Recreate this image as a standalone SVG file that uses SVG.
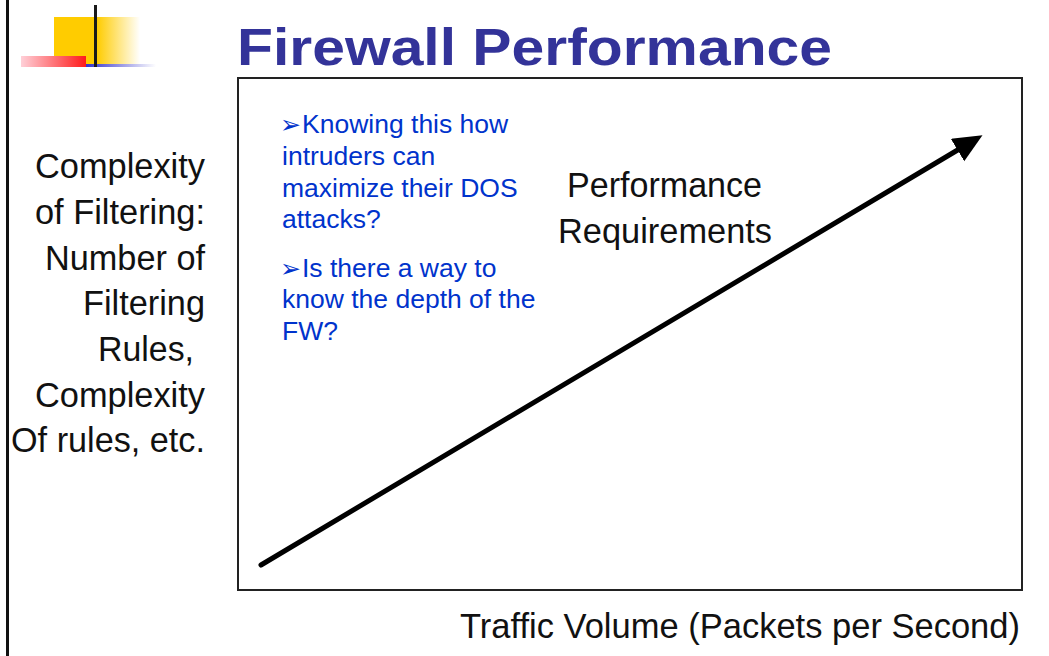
<svg xmlns="http://www.w3.org/2000/svg" width="1049" height="656" viewBox="0 0 1049 656">
  <style>
    .lbl { font-family: "Liberation Sans", Arial, sans-serif; font-size: 35px; fill: #111111; }
    .note { font-family: "Liberation Sans", Arial, sans-serif; font-size: 26.5px; fill: #0033cc; }
    .bul { font-family: "DejaVu Sans", sans-serif; font-size: 25px; fill: #0033cc; }
    .title { font-family: "Liberation Sans", Arial, sans-serif; font-size: 52px; font-weight: bold; fill: #333399; }
  </style>
  <defs>
    <linearGradient id="gYellow" x1="0" y1="0" x2="1" y2="0">
      <stop offset="0" stop-color="#ffcc00"/>
      <stop offset="0.5" stop-color="#ffcc00"/>
      <stop offset="1" stop-color="#ffffff"/>
    </linearGradient>
    <linearGradient id="gRed" x1="0" y1="0" x2="1" y2="0">
      <stop offset="0" stop-color="#ffd0d8"/>
      <stop offset="1" stop-color="#ff1a1a"/>
    </linearGradient>
    <linearGradient id="gBlue" x1="0" y1="0" x2="1" y2="0">
      <stop offset="0" stop-color="#3333cc"/>
      <stop offset="1" stop-color="#ffffff"/>
    </linearGradient>
    <marker id="ah" markerUnits="userSpaceOnUse" markerWidth="30" markerHeight="28" refX="4" refY="13" orient="auto">
      <polygon points="0,0 29,13 0,26" fill="#000000"/>
    </marker>
  </defs>
  <rect x="0" y="0" width="1049" height="656" fill="#ffffff"/>
  <rect x="6" y="0" width="3" height="656" fill="#111111"/>

  <g id="logo">
    <rect x="54" y="17" width="86" height="50" fill="url(#gYellow)"/>
    <rect x="86" y="64" width="70" height="3" fill="url(#gBlue)"/>
    <rect x="21" y="56" width="65" height="11" fill="url(#gRed)"/>
    <rect x="94" y="5" width="3" height="62" fill="#1a1a1a"/>
  </g>

  <g id="title">
    <text class="title" x="237" y="65" textLength="595" lengthAdjust="spacingAndGlyphs">Firewall Performance</text>
  </g>

  <g id="chart-frame">
    <rect x="238" y="78" width="784" height="512" fill="none" stroke="#222222" stroke-width="2"/>
  </g>

  <g id="y-axis-label" text-anchor="end">
    <text class="lbl" x="205" y="178" textLength="170" lengthAdjust="spacingAndGlyphs">Complexity</text>
    <text class="lbl" x="205" y="224" textLength="170" lengthAdjust="spacingAndGlyphs">of Filtering:</text>
    <text class="lbl" x="205" y="270" textLength="160" lengthAdjust="spacingAndGlyphs">Number of</text>
    <text class="lbl" x="205" y="315" textLength="122" lengthAdjust="spacingAndGlyphs">Filtering</text>
    <text class="lbl" x="194" y="361" textLength="96" lengthAdjust="spacingAndGlyphs">Rules,</text>
    <text class="lbl" x="205" y="407" textLength="170" lengthAdjust="spacingAndGlyphs">Complexity</text>
    <text class="lbl" x="205" y="452" textLength="194" lengthAdjust="spacingAndGlyphs">Of rules, etc.</text>
  </g>

  <g id="notes">
    <text class="bul" x="280" y="133">➢</text>
    <text class="note" x="302" y="133">Knowing this how</text>
    <text class="note" x="282" y="165">intruders can</text>
    <text class="note" x="282" y="197">maximize their DOS</text>
    <text class="note" x="282" y="228">attacks?</text>
    <text class="bul" x="280" y="277">➢</text>
    <text class="note" x="302" y="277">Is there a way to</text>
    <text class="note" x="282" y="308">know the depth of the</text>
    <text class="note" x="282" y="340">FW?</text>
  </g>

  <g id="performance-label">
    <text class="lbl" x="567" y="197" textLength="195" lengthAdjust="spacingAndGlyphs">Performance</text>
    <text class="lbl" x="558" y="243" textLength="214" lengthAdjust="spacingAndGlyphs">Requirements</text>
  </g>

  <g id="x-axis-label">
    <text class="lbl" x="460" y="638" textLength="560" lengthAdjust="spacingAndGlyphs">Traffic Volume (Packets per Second)</text>
  </g>

  <g id="connectors">
    <line x1="261" y1="565" x2="961" y2="148" stroke="#000000" stroke-width="5" stroke-linecap="round" marker-end="url(#ah)"/>
  </g>
</svg>
